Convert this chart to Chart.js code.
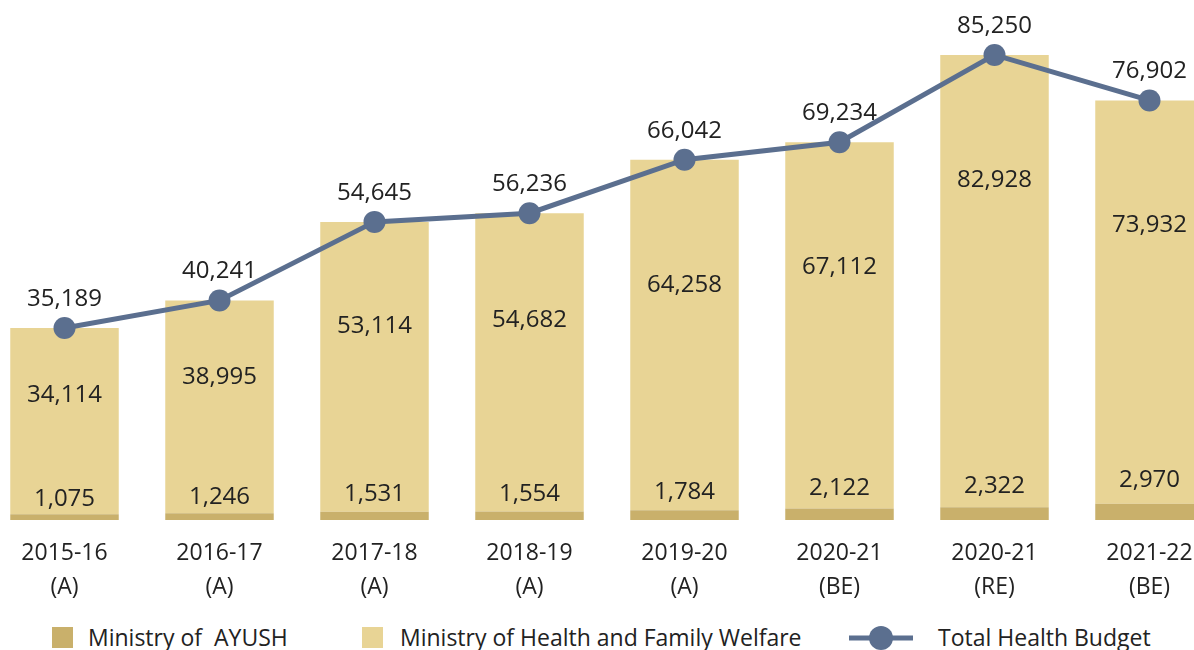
<!DOCTYPE html>
<html>
<head>
<meta charset="utf-8">
<script src="https://cdn.jsdelivr.net/npm/chart.js@4.4.0/dist/chart.umd.min.js"></script>
<style>
  html, body { margin: 0; padding: 0; background: #fff; overflow: hidden; }
  body { width: 1194px; height: 650px; position: relative; font-family: 'Open Sans', sans-serif; color: #222; }
  #wrap { position: absolute; left: -13px; top: 0; width: 1240px; height: 601px; }
  .legend { position: absolute; top: 623px; font-size: 23px; white-space: pre; line-height: 28px; }
  .box { position: absolute; top: 627px; width: 21px; height: 21px; }
</style>
</head>
<body>
<div id="wrap"><canvas id="budgetChart"></canvas></div>

<div class="box" style="left:52px;background:#c9b06b"></div>
<div class="legend" style="left:88px">Ministry of  AYUSH</div>
<div class="box" style="left:362px;background:#e8d495"></div>
<div class="legend" style="left:400px">Ministry of Health and Family Welfare</div>
<svg style="position:absolute;left:848px;top:625px" width="66" height="26">
  <line x1="1" y1="13" x2="65" y2="13" stroke="#5b6f8f" stroke-width="5"/>
  <circle cx="33" cy="13" r="12" fill="#5b6f8f"/>
</svg>
<div class="legend" style="left:938px">Total Health Budget</div>

<script>
// years on the x axis (two lines each)
const years = ['2015-16', '2016-17', '2017-18', '2018-19', '2019-20', '2020-21', '2020-21', '2021-22'];
const stages = ['(A)', '(A)', '(A)', '(A)', '(A)', '(BE)', '(RE)', '(BE)'];

const ayush = [1075, 1246, 1531, 1554, 1784, 2122, 2322, 2970];
const mohfw = [34114, 38995, 53114, 54682, 64258, 67112, 82928, 73932];
const totalBudget = [35189, 40241, 54645, 56236, 66042, 69234, 85250, 76902];

const labels = years.map((y, i) => [y, stages[i]]);
const fmt = v => v.toLocaleString('en-US');

// value labels drawn on top of the bars / points
const valueLabels = {
  id: 'valueLabels',
  afterDatasetsDraw(chart) {
    const ctx = chart.ctx;
    const y = chart.scales.y;
    const base = y.getPixelForValue(0);
    ctx.save();
    ctx.font = '24px "Open Sans"';
    ctx.fillStyle = '#222';
    ctx.textAlign = 'center';
    ctx.textBaseline = 'middle';

    chart.getDatasetMeta(0).data.forEach((bar, i) => {
      const h = base - bar.y;
      ctx.fillText(fmt(ayush[i]), bar.x, base - 10 - h * 1.85);
    });
    chart.getDatasetMeta(1).data.forEach((bar, i) => {
      const h = base - bar.y;
      ctx.fillText(fmt(mohfw[i]), bar.x, bar.y + Math.min(h * 0.35, 125));
    });
    chart.getDatasetMeta(2).data.forEach((pt, i) => {
      ctx.fillText(fmt(totalBudget[i]), pt.x, pt.y - 29);
    });
    ctx.restore();
  }
};

new Chart(document.getElementById('budgetChart'), {
  type: 'bar',
  data: {
    labels: labels,
    datasets: [
      {
        label: 'Ministry of  AYUSH',
        data: ayush,
        backgroundColor: '#c9b06b',
        barPercentage: 0.7,
        categoryPercentage: 1,
        order: 2,
      },
      {
        label: 'Ministry of Health and Family Welfare',
        data: mohfw,
        backgroundColor: '#e8d495',
        barPercentage: 0.7,
        categoryPercentage: 1,
        order: 2,
      },
      {
        type: 'line',
        label: 'Total Health Budget',
        data: totalBudget,
        borderColor: '#5b6f8f',
        backgroundColor: '#5b6f8f',
        borderWidth: 5,
        pointRadius: 11,
        pointHoverRadius: 11,
        pointBorderWidth: 0,
        tension: 0,
        stack: 'line',
        order: 1,
      },
    ],
  },
  options: {
    responsive: true,
    maintainAspectRatio: false,
    animation: false,
    layout: { autoPadding: false, padding: { top: 29, left: 0, right: 0, bottom: 0 } },
    plugins: {
      legend: { display: false },
      tooltip: { enabled: false },
    },
    scales: {
      x: {
        stacked: true,
        grid: { display: false, drawTicks: false },
        border: { display: false },
        ticks: {
          color: '#222',
          padding: 17,
          font: { family: 'Open Sans', size: 23, lineHeight: 1.45 },
          maxRotation: 0,
          autoSkip: false,
        },
        afterFit(scale) {
          scale.paddingLeft = 0;
          scale.paddingRight = 0;
          scale.height = 81;
        },
      },
      y: {
        stacked: true,
        display: false,
        min: 0,
        max: 90000,
      },
    },
  },
  plugins: [valueLabels],
});
</script>
</body>
</html>
